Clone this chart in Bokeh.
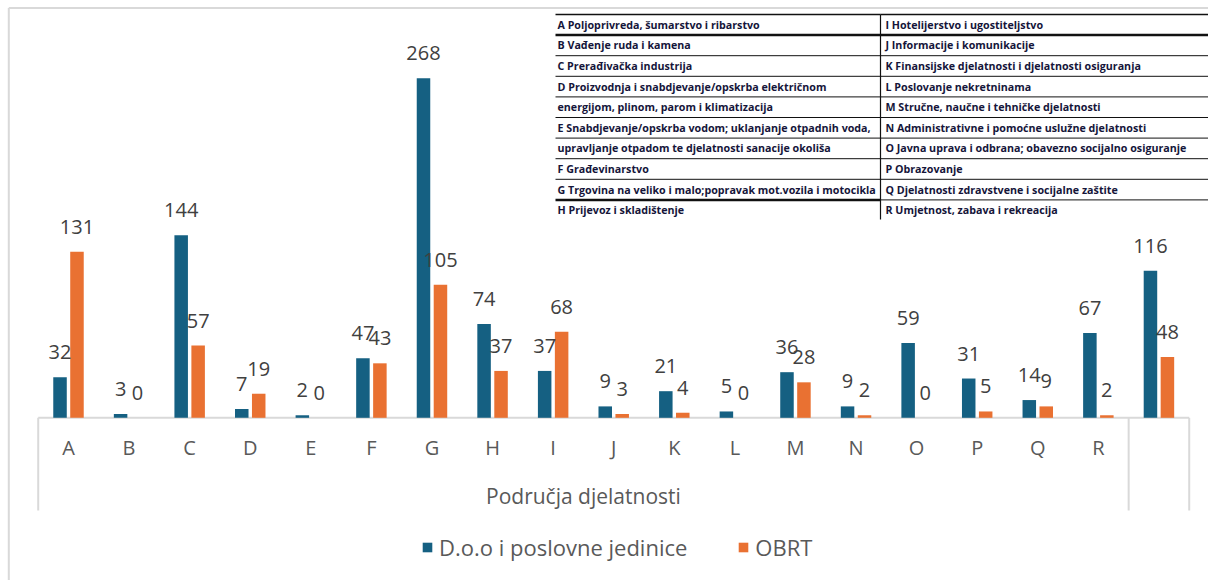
import numpy as np
from bokeh.plotting import figure
from bokeh.models import (Range1d, FixedTicker, LinearAxis, Legend, LegendItem, Label)
from bokeh.core.properties import value
from bokeh.embed import file_html
from bokeh.resources import INLINE

# ---------------- data ----------------
categories = ["A", "B", "C", "D", "E", "F", "G", "H", "I", "J", "K", "L",
              "M", "N", "O", "P", "Q", "R", ""]
doo = [32, 3, 144, 7, 2, 47, 268, 74, 37, 9, 21, 5, 36, 9, 59, 31, 14, 67, 116]
obrt = [131, 0, 57, 19, 0, 43, 105, 37, 68, 3, 4, 0, 28, 2, 0, 5, 9, 2, 48]
series_names = ["D.o.o i poslovne jedinice", "OBRT"]
axis_title = "Područja djelatnosti"
table_left = [
    "A Poljoprivreda, šumarstvo i ribarstvo",
    "B Vađenje ruda i kamena",
    "C Prerađivačka industrija",
    "D Proizvodnja i snabdjevanje/opskrba električnom",
    "energijom, plinom, parom i klimatizacija",
    "E Snabdjevanje/opskrba vodom; uklanjanje otpadnih voda,",
    "upravljanje otpadom te djelatnosti sanacije okoliša",
    "F Građevinarstvo",
    "G Trgovina na veliko i malo;popravak mot.vozila i motocikla",
    "H Prijevoz i skladištenje",
]
table_right = [
    "I Hotelijerstvo i ugostiteljstvo",
    "J Informacije i komunikacije",
    "K Finansijske djelatnosti i djelatnosti osiguranja",
    "L Poslovanje nekretninama",
    "M Stručne, naučne i tehničke djelatnosti",
    "N Administrativne i pomoćne uslužne djelatnosti",
    "O Javna uprava i odbrana; obavezno socijalno osiguranje",
    "P Obrazovanje",
    "Q Djelatnosti zdravstvene i socijalne zaštite",
    "R Umjetnost, zabava i rekreacija",
]

# ---------------- geometry (frame = whole canvas) ----------------
W, H = 1208, 580
KX = 60.58                # px per category
KY = 1.267                # px per unit
BASE_PX = 417.3           # baseline, px from top
x0 = -68 / KX
x1 = x0 + W / KX
y1 = BASE_PX / KY
y0 = y1 - H / KY


def X(px):
    return x0 + px / KX


def Y(py):
    return y1 - py / KY


BLUE = "#156082"
ORANGE = "#E97132"
GRID = "#d9d9d9"
FONT = "Open Sans"
n = len(categories)

p = figure(width=W, height=H, output_backend="svg", toolbar_location=None,
           x_range=Range1d(x0, x1), y_range=Range1d(y0, y1),
           x_axis_type=None, y_axis_type=None, min_border=0)
p.outline_line_color = None
p.background_fill_color = "white"
p.border_fill_color = "white"

# outer chart border (left, top)
p.segment(x0=[X(8.3), X(8.3)], y0=[Y(7.5), Y(7.5)], x1=[X(8.3), X(1210)], y1=[Y(590), Y(7.5)],
          line_color=GRID, line_width=2)

# category box: baseline + vertical separators
p.segment(x0=[-0.5], y0=[0], x1=[n - 0.5], y1=[0], line_color=GRID, line_width=2)
sep = [-0.5, n - 1.5, n - 0.5]
p.segment(x0=sep, y0=[0] * 3, x1=sep, y1=[Y(510)] * 3, line_color=GRID, line_width=2)

xi = np.arange(n)
OFF = 0.14
BW = 0.223

rb = p.vbar(x=xi - OFF, top=doo, width=BW, fill_color=BLUE, line_color=None)
ro = p.vbar(x=xi + OFF, top=obrt, width=BW, fill_color=ORANGE, line_color=None)

p.text(x=xi - OFF, y=doo, text=[str(v) for v in doo], text_align="center",
       text_baseline="middle", y_offset=-25, text_font=value(FONT),
       text_font_size="20px", text_color="#404040")
p.text(x=xi + OFF, y=obrt, text=[str(v) for v in obrt], text_align="center",
       text_baseline="middle", y_offset=-25, text_font=value(FONT),
       text_font_size="20px", text_color="#404040")

# category axis, fixed at the baseline
ax = LinearAxis(
    fixed_location=0,
    ticker=FixedTicker(ticks=list(range(n)), minor_ticks=[]),
    major_label_overrides={i: c for i, c in enumerate(categories)},
    axis_line_color=None, major_tick_line_color=None, major_tick_out=0, major_tick_in=0,
    minor_tick_line_color=None,
    major_label_standoff=16, major_label_text_font=FONT,
    major_label_text_font_size="20px", major_label_text_color="#595959")
p.add_layout(ax, "below")

p.add_layout(Label(x=(n - 2) / 2, y=Y(495), text=axis_title,
                   text_align="center", text_baseline="middle",
                   text_font=FONT, text_font_size="21px", text_color="#595959"))

# legend
legend = Legend(items=[LegendItem(label=series_names[0], renderers=[rb]),
                       LegendItem(label=series_names[1], renderers=[ro])],
                location=(421, 18), orientation="horizontal",
                glyph_width=12, glyph_height=12, label_standoff=6, spacing=50,
                padding=0, margin=0, border_line_color=None, background_fill_alpha=0,
                label_text_font=FONT, label_text_font_size="22px",
                label_text_color="#595959")
p.add_layout(legend)

# table of activity codes
ROW0 = 14
ROWH = 20.6
nrows = len(table_left)
line_y = [Y(ROW0 + ROWH * k) for k in range(nrows)]
lw_left = [1.5, 2.5] + [1] * (nrows - 3) + [2.5]
lw_right = [1.5, 2.5] + [1] * (nrows - 2)
p.segment(x0=[X(555)] * nrows, y0=line_y, x1=[X(880)] * nrows, y1=line_y,
          line_color="#111111", line_width=lw_left)
p.segment(x0=[X(880)] * nrows, y0=line_y, x1=[X(1215)] * nrows, y1=line_y,
          line_color="#111111", line_width=lw_right)
p.segment(x0=[X(880)], y0=[Y(ROW0)], x1=[X(880)], y1=[Y(219)],
          line_color="#111111", line_width=1.2)
text_y = [Y(ROW0 + ROWH * (k + 0.5)) for k in range(nrows)]
p.text(x=[X(557)] * nrows, y=text_y, text=table_left, text_align="left",
       text_baseline="middle", text_font=value(FONT), text_font_size="10.7px",
       text_font_style="bold", text_color="#15153a")
p.text(x=[X(885)] * nrows, y=text_y, text=table_right, text_align="left",
       text_baseline="middle", text_font=value(FONT), text_font_size="10.7px",
       text_font_style="bold", text_color="#15153a")

open("out.html", "w").write(file_html(p, INLINE))
